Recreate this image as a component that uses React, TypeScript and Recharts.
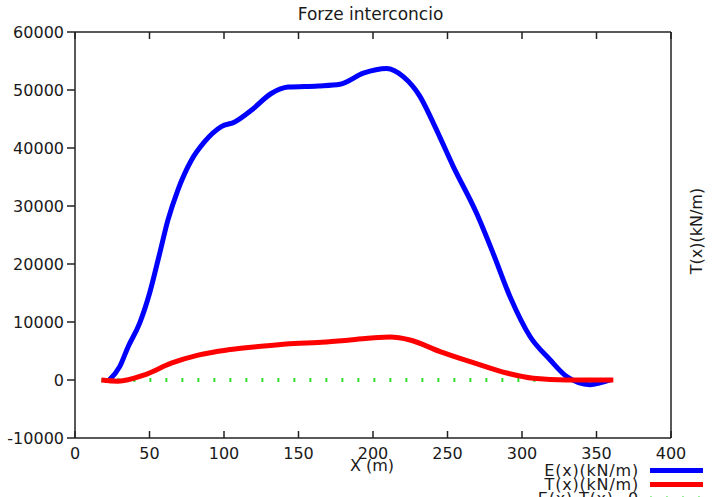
import React from "react";
import { ComposedChart, Line, XAxis, YAxis } from "recharts";

// E(x) (kN/m)
const eX = [23, 30, 35.6, 43.4, 50.1, 56.8, 62.4, 69.1, 78.1, 87, 98.2, 107.2, 118.3, 131.7, 143, 163.1, 177.9, 193.5, 209.2, 220.3, 231.5, 240.5, 253.9, 269.6, 280.7, 291.9, 305.4, 318.8, 330, 345.6, 359.1];
const eY = [0, 2300, 5700, 9800, 15000, 21800, 27600, 32800, 37900, 41100, 43700, 44500, 46500, 49400, 50500, 50700, 51000, 52900, 53700, 52300, 48900, 44300, 36800, 28700, 21800, 14400, 7500, 3500, 600, -800, 0];

// T(x) (kN/m)
const tX = [17.7, 28.9, 46.8, 64.6, 82.6, 102.7, 125, 147.4, 163.1, 184.6, 211.4, 224.8, 245, 267.3, 289.7, 307.6, 330, 361.3];
const tY = [0, -200, 900, 2900, 4300, 5200, 5800, 6300, 6450, 6900, 7400, 6900, 4900, 3000, 1200, 300, 0, 0];

// E(x),T(x)=0
const zX = [17.7, 360];
const zY = [0, 0];

const xTicks = [0, 50, 100, 150, 200, 250, 300, 350, 400];
const yTicks = [-10000, 0, 10000, 20000, 30000, 40000, 50000, 60000];

const title = "Forze interconcio";
const xLabel = "X (m)";
const yRightLabel = "T(x)(kN/m)";
const legendItems = [
  { name: "E(x)(kN/m)", color: "#0000ff", dashed: false },
  { name: "T(x)(kN/m)", color: "#ff0000", dashed: false },
  { name: "E(x),T(x)=0", color: "#33dd33", dashed: true },
];

const toData = (xs: number[], ys: number[]) => xs.map((x, i) => ({ x, y: ys[i] }));
const eData = toData(eX, eY);
const tData = toData(tX, tY);
const zData = toData(zX, zY);

const FONT = "'DejaVu Sans', sans-serif";
const AX = "#222";

const BottomTick = (props: any) => {
  const { x, y, payload } = props;
  return (
    <g>
      <line x1={x} x2={x} y1={y} y2={y - 7} stroke={AX} strokeWidth={1.5} />
      <text x={x} y={y + 20.5} textAnchor="middle" fontSize={16} fontFamily={FONT} fill="#1a1a1a">
        {payload.value}
      </text>
    </g>
  );
};

const TopTick = (props: any) => {
  const { x, y } = props;
  return <line x1={x} x2={x} y1={y} y2={y + 7} stroke={AX} strokeWidth={1.5} />;
};

export default function App() {
  return (
    <div style={{ position: "absolute", left: 0, top: 0, width: 713, height: 497, background: "#fff", overflow: "hidden" }}>
      <ComposedChart width={713} height={497} margin={{ top: 22, right: 0, left: 0, bottom: 0 }}>
        <XAxis
          xAxisId="b"
          orientation="bottom"
          type="number"
          dataKey="x"
          domain={[0, 400]}
          ticks={xTicks}
          allowDataOverflow
          height={59}
          tickSize={0}
          tickMargin={0}
          axisLine={{ stroke: AX, strokeWidth: 1.5 }}
          tickLine={false}
          tick={BottomTick}
          interval={0}
        />
        <XAxis
          xAxisId="t"
          orientation="top"
          type="number"
          dataKey="x"
          domain={[0, 400]}
          ticks={xTicks}
          allowDataOverflow
          height={10}
          tickSize={0}
          tickMargin={0}
          axisLine={{ stroke: AX, strokeWidth: 1.5 }}
          tickLine={false}
          tick={TopTick}
          interval={0}
        />
        <YAxis
          yAxisId="l"
          type="number"
          domain={[-10000, 60000]}
          ticks={yTicks}
          width={75}
          tickSize={8}
          tickMargin={3}
          axisLine={{ stroke: AX, strokeWidth: 1.5 }}
          tickLine={{ stroke: AX, strokeWidth: 1.5 }}
          tick={{ fill: "#1a1a1a", fontSize: 16, fontFamily: FONT }}
          interval={0}
        />
        <YAxis
          yAxisId="r"
          orientation="right"
          type="number"
          domain={[-10000, 60000]}
          width={42}
          axisLine={{ stroke: AX, strokeWidth: 1.5 }}
          tickLine={false}
          tick={false}
        />
        <Line
          xAxisId="t"
          yAxisId="l"
          data={zData}
          dataKey="y"
          type="linear"
          stroke="#33dd33"
          strokeWidth={4}
          strokeDasharray="2 14"
          dot={false}
          activeDot={false}
          isAnimationActive={false}
        />
        <Line
          xAxisId="b"
          yAxisId="l"
          data={eData}
          dataKey="y"
          type="monotone"
          stroke="#0000ff"
          strokeWidth={5}
          dot={false}
          activeDot={false}
          isAnimationActive={false}
        />
        <Line
          xAxisId="b"
          yAxisId="l"
          data={tData}
          dataKey="y"
          type="monotone"
          stroke="#ff0000"
          strokeWidth={5}
          dot={false}
          activeDot={false}
          isAnimationActive={false}
        />
      </ComposedChart>
      <svg
        width={713}
        height={497}
        style={{ position: "absolute", left: 0, top: 0, pointerEvents: "none" }}
        fontFamily={FONT}
      >
        <text x={370.5} y={20} textAnchor="middle" fontSize={17} fill="#1a1a1a">
          {title}
        </text>
        <text x={372} y={471} textAnchor="middle" fontSize={16} fill="#1a1a1a">
          {xLabel}
        </text>
        <text
          x={702}
          y={231}
          textAnchor="middle"
          fontSize={16}
          fill="#1a1a1a"
          transform="rotate(-90 702 231)"
        >
          {yRightLabel}
        </text>
        {legendItems.map((it, i) => (
          <g key={it.name}>
            <text x={639} y={476 + i * 14} textAnchor="end" fontSize={16} fill="#1a1a1a" letterSpacing={0.8}>
              {it.name}
            </text>
            <line
              x1={650}
              x2={703}
              y1={470.5 + i * 14}
              y2={470.5 + i * 14}
              stroke={it.color}
              strokeWidth={it.dashed ? 4 : 5}
              strokeDasharray={it.dashed ? "2 14" : undefined}
            />
          </g>
        ))}
      </svg>
    </div>
  );
}
